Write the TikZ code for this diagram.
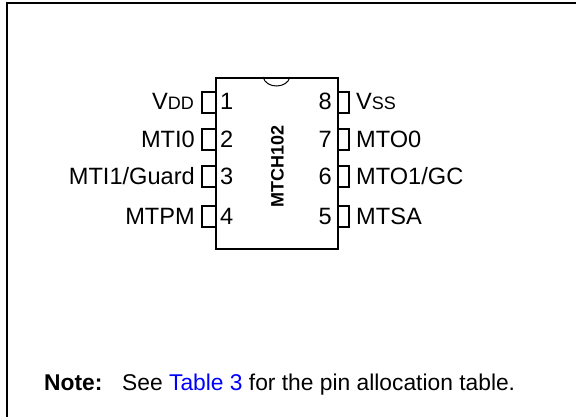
\documentclass[tikz,border=0pt]{standalone}
\usepackage{fontspec}
\setmainfont{Liberation Sans}
\tikzset{
  x=1pt,y=-1pt,
  outline/.style={draw=black,line width=1.6pt},
  pinbox/.style={draw=black,line width=1.5pt},
  frameline/.style={draw=black,line width=2pt},
  lbl/.style={inner sep=0pt,font=\fontsize{23.6}{28}\selectfont,text=black}
}
\newcommand{\smc}[1]{{\fontsize{18}{20}\selectfont #1}}
\begin{document}
\begin{tikzpicture}
\useasboundingbox (0,0) rectangle (576,417);
\coordinate (fa) at (7,417);\coordinate (fb) at (7,3);\coordinate (fc) at (576,3);
\draw[frameline] (fa) -- (fb) -- (fc);
\node[outline,minimum width=122pt,minimum height=171pt,inner sep=0pt,anchor=north west] (body) at (215,77) {};
\draw[line width=1pt] (263,77) .. controls (266,89) and (287,89) .. (290,77);
\foreach \p/\yy in {1/92,2/129,3/166,4/206}{
  \draw[pinbox] (215,\yy) -- (202,\yy) -- (202,\yy+21) -- (215,\yy+21);
}
\foreach \p/\yy in {8/92,7/129,6/166,5/206}{
  \draw[pinbox] (337,\yy) -- (349,\yy) -- (349,\yy+21) -- (337,\yy+21);
}
\node[lbl,anchor=base west] (n1) at (220,110) {1};
\node[lbl,anchor=base west] (n2) at (220,148) {2};
\node[lbl,anchor=base west] (n3) at (220,185) {3};
\node[lbl,anchor=base west] (n4) at (220,225) {4};
\node[lbl,anchor=base east] (n8) at (332,110) {8};
\node[lbl,anchor=base east] (n7) at (332,148) {7};
\node[lbl,anchor=base east] (n6) at (332,185) {6};
\node[lbl,anchor=base east] (n5) at (332,225) {5};
\node[lbl,anchor=base east] (a1) at (194,110) {V\smc{DD}};
\node[lbl,anchor=base east] (a2) at (195,148) {MTI0};
\node[lbl,anchor=base east] (a3) at (195,185) {MTI1/Guard};
\node[lbl,anchor=base east] (a4) at (195,225) {MTPM};
\node[lbl,anchor=base west] (a8) at (356,110) {V\smc{SS}};
\node[lbl,anchor=base west] (a7) at (356,148) {MTO0};
\node[lbl,anchor=base west] (a6) at (356,185) {MTO1/GC};
\node[lbl,anchor=base west] (a5) at (356,225) {MTSA};
\node[inner sep=0pt,rotate=90,font=\fontsize{18}{20}\selectfont\bfseries] (title) at (277.5,166) {MTCH102};
\node[lbl,anchor=base west,font=\fontsize{22.8}{26}\selectfont\bfseries] (note) at (44,390) {Note:};
\node[lbl,anchor=base west,font=\fontsize{22.8}{26}\selectfont] (txt) at (122,390) {See \textcolor{blue}{Table 3} for the pin allocation table.};
\end{tikzpicture}
\end{document}
